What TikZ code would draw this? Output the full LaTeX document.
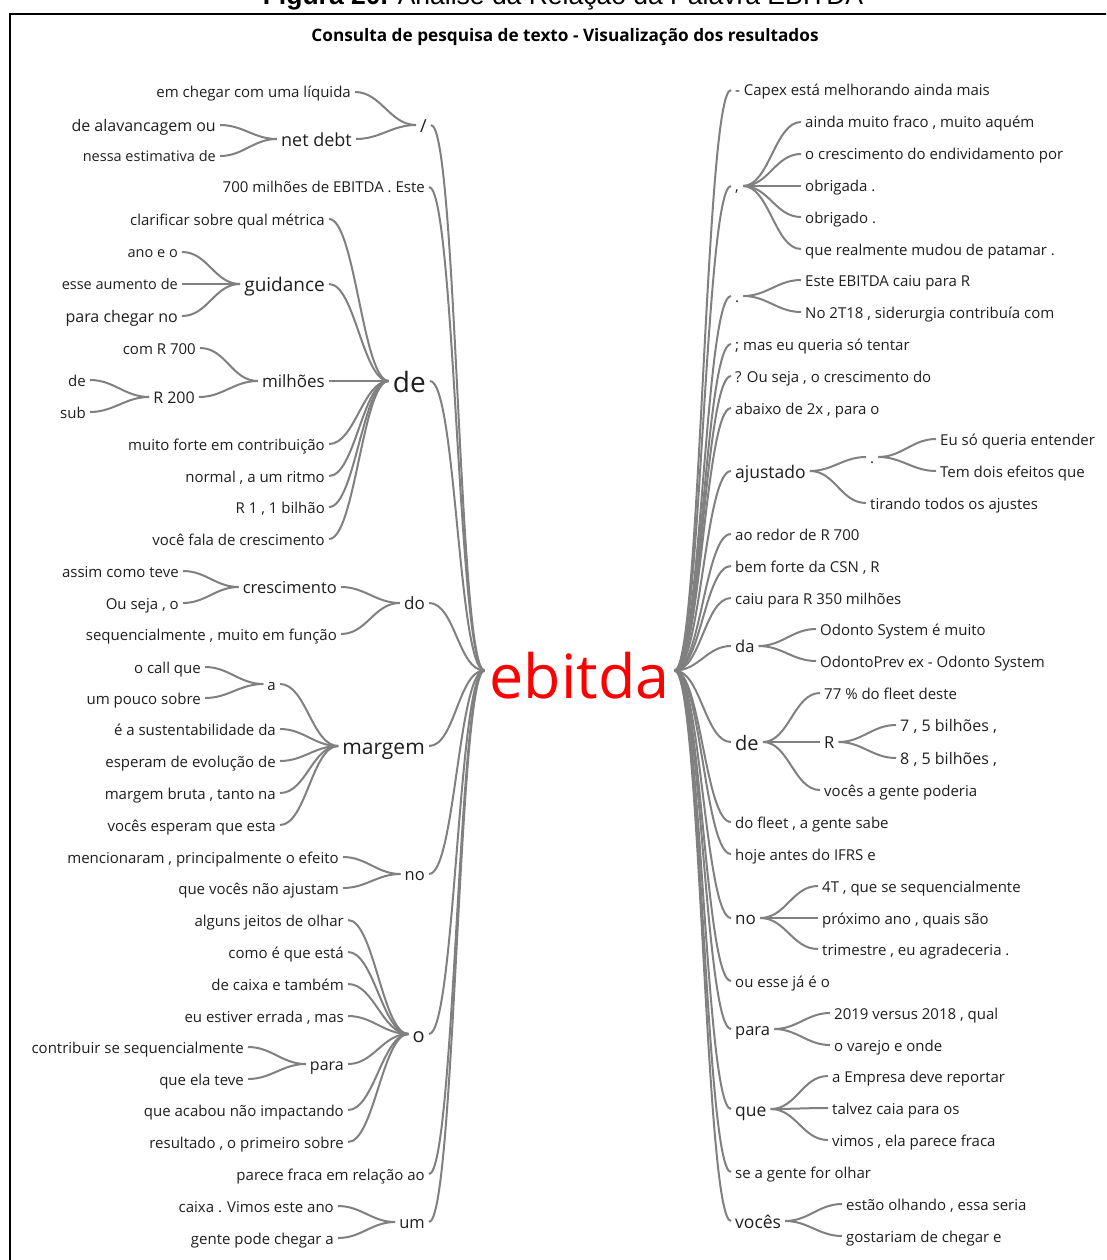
\documentclass[tikz,border=0pt]{standalone}
\usepackage{fontspec}
\setmainfont{Open Sans}
\newfontfamily\capfont{Liberation Sans}
\definecolor{lngray}{RGB}{128,128,128}
\definecolor{txtgray}{RGB}{30,30,30}
\tikzset{
  fs/.style={font=\fontsize{#1}{#1}\selectfont, text height=0.8*#1 pt, text depth=0pt},
  wl/.style={anchor=east, inner xsep=4pt, inner ysep=0pt, text=txtgray, fs=#1},
  wl/.default=15,
  wr/.style={anchor=west, inner xsep=4pt, inner ysep=0pt, text=txtgray, fs=#1},
  wr/.default=15,
  lnk/.style={draw=lngray, line width=2pt, out=0, in=180, max distance=26pt}
}
\begin{document}
\begin{tikzpicture}[x=1pt,y=-1pt]
\useasboundingbox (0,0) rectangle (1106,1260);
\clip (0,0) rectangle (1106,1260);
\draw[line width=1.4pt] (10,1270) -- (10,14) -- (1115,14);
\node[anchor=base, font=\capfont\fontsize{26.5}{26.5}\selectfont] (cap) at (563,4.5) {\textbf{Figura 20.} Análise da Relação da Palavra EBITDA};
\node[font=\bfseries\fontsize{17.2}{17.2}\selectfont] (ttl) at (565,37) {Consulta de pesquisa de texto - Visualização dos resultados};
\node[anchor=base, inner xsep=5pt, inner ysep=0pt, text=red, font=\fontsize{61}{61}\selectfont, text height=55pt, text depth=0pt] (root) at (579.5,698) {ebitda};
% left side
\node[wl=18] (L0) at (431,125) {/};
\node[wl] (L0a) at (355,92) {em chegar com uma líquida};
\node[wl=18] (L0b) at (356,139) {net debt};
\node[wl=16] (L0b1) at (220,125) {de alavancagem ou};
\node[wl=14.5] (L0b2) at (220,156) {nessa estimativa de};
\node[wl] (L1) at (429,187) {700 milhões de EBITDA . Este};
\node[wl=28] (L2) at (430,381) {de};
\node[wl] (L2a) at (329,219) {clarificar sobre qual métrica};
\node[wl=19] (L2b) at (329,284) {guidance};
\node[wl=14.5] (L2b1) at (182,252) {ano e o};
\node[wl=14.5] (L2b2) at (182,284) {esse aumento de};
\node[wl=16] (L2b3) at (182,316) {para chegar no};
\node[wl=17] (L2c) at (329,381) {milhões};
\node[wl] (L2c1) at (200,348) {com R 700};
\node[wl=16] (L2c2) at (199,397) {R 200};
\node[wl] (L2c2a) at (90,380) {de};
\node[wl] (L2c2b) at (90,412) {sub};
\node[wl] (L2d) at (329,444) {muito forte em contribuição};
\node[wl] (L2e) at (329,476) {normal , a um ritmo};
\node[wl] (L2f) at (329,507) {R 1 , 1 bilhão};
\node[wl] (L2g) at (329,539) {você fala de crescimento};
\node[wl=17] (L3) at (429,603) {do};
\node[wl=16.5] (L3a) at (341,587) {crescimento};
\node[wl] (L3a1) at (183,571) {assim como teve};
\node[wl] (L3a2) at (183,603) {Ou seja , o};
\node[wl] (L3b) at (341,634) {sequencialmente , muito em função};
\node[wl=21] (L4) at (429,746) {margem};
\node[wl] (L4a) at (280,684) {a};
\node[wl] (L4a1) at (205,667) {o call que};
\node[wl] (L4a2) at (205,698) {um pouco sobre};
\node[wl] (L4b) at (280,729) {é a sustentabilidade da};
\node[wl] (L4c) at (280,761) {esperam de evolução de};
\node[wl] (L4d) at (280,793) {margem bruta , tanto na};
\node[wl] (L4e) at (280,825) {vocês esperam que esta};
\node[wl=16.5] (L5) at (429,874) {no};
\node[wl] (L5a) at (343,857) {mencionaram , principalmente o efeito};
\node[wl] (L5b) at (343,888) {que vocês não ajustam};
\node[wl=20] (L6) at (429,1034) {o};
\node[wl] (L6a) at (348,920) {alguns jeitos de olhar};
\node[wl] (L6b) at (348,952) {como é que está};
\node[wl] (L6c) at (348,984) {de caixa e também};
\node[wl] (L6d) at (348,1016) {eu estiver errada , mas};
\node[wl=16] (L6e) at (348,1064) {para};
\node[wl] (L6e1) at (248,1047) {contribuir se sequencialmente};
\node[wl] (L6e2) at (248,1079) {que ela teve};
\node[wl] (L6f) at (348,1110) {que acabou não impactando};
\node[wl] (L6g) at (348,1142) {resultado , o primeiro sobre};
\node[wl] (L7) at (429,1174) {parece fraca em relação ao};
\node[wl=16.5] (L8) at (429,1222) {um};
\node[wl] (L8a) at (338,1206) {caixa . Vimos este ano};
\node[wl] (L8b) at (338,1238) {gente pode chegar a};
% right side
\node[wr] (R0) at (731,90) {- Capex está melhorando ainda mais};
\node[wr] (R1) at (731,186) {,};
\node[wr] (R1a) at (801,122) {ainda muito fraco , muito aquém};
\node[wr] (R1b) at (801,154) {o crescimento do endividamento por};
\node[wr] (R1c) at (801,186) {obrigada .};
\node[wr] (R1d) at (801,217) {obrigado .};
\node[wr] (R1e) at (801,249) {que realmente mudou de patamar .};
\node[wr] (R2) at (731,296) {.};
\node[wr] (R2a) at (801,280) {Este EBITDA caiu para R};
\node[wr] (R2b) at (801,312) {No 2T18 , siderurgia contribuía com};
\node[wr] (R3) at (731,344) {; mas eu queria só tentar};
\node[wr] (R4) at (731,376) {? Ou seja , o crescimento do};
\node[wr] (R5) at (731,408) {abaixo de 2x , para o};
\node[wr=17.5] (R6) at (731,471) {ajustado};
\node[wr] (R6a) at (866,457) {.};
\node[wr] (R6a1) at (936,439) {Eu só queria entender};
\node[wr] (R6a2) at (936,471) {Tem dois efeitos que};
\node[wr] (R6b) at (866,503) {tirando todos os ajustes};
\node[wr] (R7) at (731,534) {ao redor de R 700};
\node[wr] (R8) at (731,566) {bem forte da CSN , R};
\node[wr] (R9) at (731,598) {caiu para R 350 milhões};
\node[wr=16.5] (R10) at (731,646) {da};
\node[wr] (R10a) at (816,629) {Odonto System é muito};
\node[wr] (R10b) at (816,661) {OdontoPrev ex - Odonto System};
\node[wr=20] (R11) at (731,742) {de};
\node[wr] (R11a) at (820,693) {77 \% do fleet deste};
\node[wr=16.5] (R11b) at (820,742) {R};
\node[wr=16] (R11b1) at (896,725) {7 , 5 bilhões ,};
\node[wr=16] (R11b2) at (896,758) {8 , 5 bilhões ,};
\node[wr] (R11c) at (820,790) {vocês a gente poderia};
\node[wr] (R12) at (731,822) {do fleet , a gente sabe};
\node[wr] (R13) at (731,854) {hoje antes do IFRS e};
\node[wr=17] (R14) at (731,918) {no};
\node[wr] (R14a) at (818,886) {4T , que se sequencialmente};
\node[wr] (R14b) at (818,918) {próximo ano , quais são};
\node[wr] (R14c) at (818,949) {trimestre , eu agradeceria .};
\node[wr] (R15) at (731,981) {ou esse já é o};
\node[wr=16.5] (R16) at (731,1029) {para};
\node[wr] (R16a) at (830,1013) {2019 versus 2018 , qual};
\node[wr] (R16b) at (830,1045) {o varejo e onde};
\node[wr=17.5] (R17) at (731,1109) {que};
\node[wr] (R17a) at (828,1076) {a Empresa deve reportar};
\node[wr] (R17b) at (828,1108) {talvez caia para os};
\node[wr] (R17c) at (828,1140) {vimos , ela parece fraca};
\node[wr] (R18) at (731,1172) {se a gente for olhar};
\node[wr=17.5] (R19) at (731,1221) {vocês};
\node[wr] (R19a) at (842,1204) {estão olhando , essa seria};
\node[wr] (R19b) at (842,1236) {gostariam de chegar e};
% links, left
\foreach \n in {L0,L1,L2,L3,L4,L5,L6,L7,L8}
  \draw[lnk] (\n.east) to (root.west);
\draw[lnk] (L0a.east) to (L0.west);
\draw[lnk] (L0b.east) to (L0.west);
\draw[lnk] (L0b1.east) to (L0b.west);
\draw[lnk] (L0b2.east) to (L0b.west);
\foreach \n in {L2a,L2b,L2c,L2d,L2e,L2f,L2g}
  \draw[lnk] (\n.east) to (L2.west);
\foreach \n in {L2b1,L2b2,L2b3}
  \draw[lnk] (\n.east) to (L2b.west);
\draw[lnk] (L2c1.east) to (L2c.west);
\draw[lnk] (L2c2.east) to (L2c.west);
\draw[lnk] (L2c2a.east) to (L2c2.west);
\draw[lnk] (L2c2b.east) to (L2c2.west);
\draw[lnk] (L3a.east) to (L3.west);
\draw[lnk] (L3b.east) to (L3.west);
\draw[lnk] (L3a1.east) to (L3a.west);
\draw[lnk] (L3a2.east) to (L3a.west);
\foreach \n in {L4a,L4b,L4c,L4d,L4e}
  \draw[lnk] (\n.east) to (L4.west);
\draw[lnk] (L4a1.east) to (L4a.west);
\draw[lnk] (L4a2.east) to (L4a.west);
\draw[lnk] (L5a.east) to (L5.west);
\draw[lnk] (L5b.east) to (L5.west);
\foreach \n in {L6a,L6b,L6c,L6d,L6e,L6f,L6g}
  \draw[lnk] (\n.east) to (L6.west);
\draw[lnk] (L6e1.east) to (L6e.west);
\draw[lnk] (L6e2.east) to (L6e.west);
\draw[lnk] (L8a.east) to (L8.west);
\draw[lnk] (L8b.east) to (L8.west);
% links, right
\foreach \n in {R0,R1,R2,R3,R4,R5,R6,R7,R8,R9,R10,R11,R12,R13,R14,R15,R16,R17,R18,R19}
  \draw[lnk] (root.east) to (\n.west);
\foreach \n in {R1a,R1b,R1c,R1d,R1e}
  \draw[lnk] (R1.east) to (\n.west);
\draw[lnk] (R2.east) to (R2a.west);
\draw[lnk] (R2.east) to (R2b.west);
\draw[lnk] (R6.east) to (R6a.west);
\draw[lnk] (R6.east) to (R6b.west);
\draw[lnk] (R6a.east) to (R6a1.west);
\draw[lnk] (R6a.east) to (R6a2.west);
\draw[lnk] (R10.east) to (R10a.west);
\draw[lnk] (R10.east) to (R10b.west);
\foreach \n in {R11a,R11b,R11c}
  \draw[lnk] (R11.east) to (\n.west);
\draw[lnk] (R11b.east) to (R11b1.west);
\draw[lnk] (R11b.east) to (R11b2.west);
\foreach \n in {R14a,R14b,R14c}
  \draw[lnk] (R14.east) to (\n.west);
\draw[lnk] (R16.east) to (R16a.west);
\draw[lnk] (R16.east) to (R16b.west);
\foreach \n in {R17a,R17b,R17c}
  \draw[lnk] (R17.east) to (\n.west);
\draw[lnk] (R19.east) to (R19a.west);
\draw[lnk] (R19.east) to (R19b.west);
\end{tikzpicture}
\end{document}
